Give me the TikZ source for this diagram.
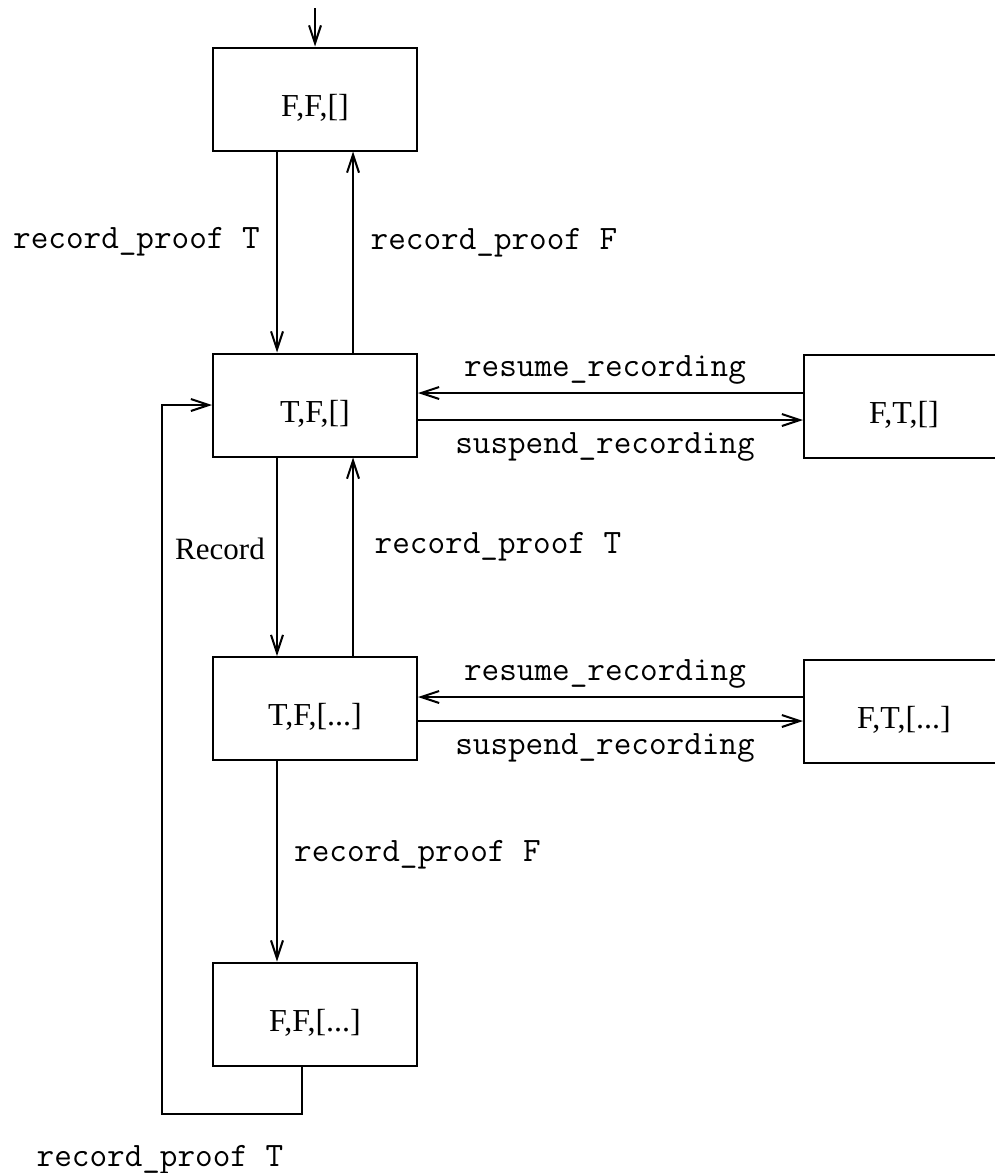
\documentclass[tikz,border=0pt]{standalone}
\usepackage{fontspec}
\setmainfont{Liberation Serif}
\usetikzlibrary{arrows.meta}
\begin{document}
\begin{tikzpicture}[x=0.5pt,y=-0.5pt,
  state/.style={draw, line width=1pt, minimum width=102pt, minimum height=51.5pt,
    inner sep=0pt, text height=17pt, text depth=0pt,
    font=\fontsize{16}{19}\selectfont},
  edge/.style={line width=1pt, -{Straight Barb[length=9pt,width=6pt]}},
  lbl/.style={font=\fontsize{17.1}{20}\selectfont\ttfamily, inner sep=0pt},
  rmlbl/.style={font=\fontsize{15.5}{18}\selectfont, inner sep=0pt},
]
% page frame
\useasboundingbox (0,0) rectangle (995,1173);
\fill[white] (0,0) rectangle (995,1173);
\clip (0,0) rectangle (995,1173);

% states
\node[state] (b1) at (315,99) {F,F,[]};
\node[state] (b2) at (315,405) {T,F,[]};
\node[state, minimum width=100pt] (b3) at (904,406.5) {F,T,[]};
\node[state] (b4) at (315,708.5) {T,F,[...]};
\node[state, minimum width=100pt] (b5) at (904,711.5) {F,T,[...]};
\node[state] (b6) at (315,1014) {F,F,[...]};

% helper coordinates
\coordinate (entry) at (315,8);
\coordinate (r1) at (0,393);
\coordinate (s1) at (0,420);
\coordinate (r2) at (0,697);
\coordinate (s2) at (0,721);
\coordinate (lp) at (162,1114);

% transitions
\draw[edge] (entry) -- (b1.north);
\draw[edge] ([xshift=-19pt]b1.south) -- ([xshift=-19pt]b2.north);
\draw[edge] ([xshift=19pt]b2.north) -- ([xshift=19pt]b1.south);
\draw[edge] (b3.west |- r1) -- (b2.east |- r1);
\draw[edge] (b2.east |- s1) -- (b3.west |- s1);
\draw[edge] ([xshift=-19pt]b2.south) -- ([xshift=-19pt]b4.north);
\draw[edge] ([xshift=19pt]b4.north) -- ([xshift=19pt]b2.south);
\draw[edge] (b5.west |- r2) -- (b4.east |- r2);
\draw[edge] (b4.east |- s2) -- (b5.west |- s2);
\draw[edge] ([xshift=-19pt]b4.south) -- ([xshift=-19pt]b6.north);
\draw[edge] ([xshift=-6.5pt]b6.south) |- (lp) |- (b2.west);

% transition labels
\node[lbl] (l1) at (136.5,242) {record\_proof T};
\node[lbl] (l2) at (494,243) {record\_proof F};
\node[lbl] (l3) at (605,370) {resume\_recording};
\node[lbl] (l4) at (605,447) {suspend\_recording};
\node[rmlbl] (l5) at (220,549) {Record};
\node[lbl] (l6) at (498,547) {record\_proof T};
\node[lbl] (l7) at (605,674) {resume\_recording};
\node[lbl] (l8) at (605,748) {suspend\_recording};
\node[lbl] (l9) at (417.5,855) {record\_proof F};
\node[lbl] (l10) at (160,1160) {record\_proof T};
\end{tikzpicture}
\end{document}
